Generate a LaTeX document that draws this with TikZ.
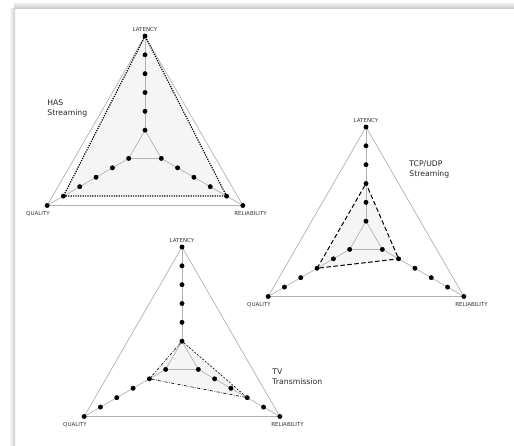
\documentclass[tikz,border=0pt]{standalone}
\usepackage{fontspec}
\setmainfont{DejaVu Sans}
\usepackage{tikz}
\usetikzlibrary{arrows, shapes, calc, backgrounds}

\begin{document}
\begin{tikzpicture}[>=latex, thick, inner sep=0pt, x=1pt, y=1pt,
	punkt/.style={circle, fill, draw=black, line width=0.4pt, minimum size=4.4pt},
	netz/.style={gray!60, line width=0.7pt},
	flaeche/.style={fill=gray!8},
	achse/.style={font=\fontsize{5.5}{6}\selectfont, text=black!80},
	titel/.style={font=\fontsize{7.7}{10}\selectfont, align=left, text=black!85}]
	
	\useasboundingbox (0,0) rectangle (514,-445);
	
	% Schatten
	\shade[top color=white, bottom color=gray!40] (14,-1) rectangle (514,-8);
	\shade[left color=white, right color=gray!40] (9,-8) rectangle (15,-445);
	
	% HAS Streaming
	\begin{scope}[shift={(145,-149)}]
		\node[punkt](h_l1) at (90:18.83) {};
		\node[punkt](h_l2) at (90:37.67) {};
		\node[punkt](h_l3) at (90:56.5) {};
		\node[punkt](h_l4) at (90:75.33) {};
		\node[punkt](h_l5) at (90:94.17) {};
		\node[punkt](h_l6) at (90:113) {};
		\node[punkt](h_q1) at (210:18.83) {};
		\node[punkt](h_q2) at (210:37.67) {};
		\node[punkt](h_q3) at (210:56.5) {};
		\node[punkt](h_q4) at (210:75.33) {};
		\node[punkt](h_q5) at (210:94.17) {};
		\node[punkt](h_q6) at (210:113) {};
		\node[punkt](h_r1) at (330:18.83) {};
		\node[punkt](h_r2) at (330:37.67) {};
		\node[punkt](h_r3) at (330:56.5) {};
		\node[punkt](h_r4) at (330:75.33) {};
		\node[punkt](h_r5) at (330:94.17) {};
		\node[punkt](h_r6) at (330:113) {};
	\end{scope}
	
	% TCP/UDP Streaming
	\begin{scope}[shift={(366,-240)}]
		\node[punkt](t_l1) at (90:18.83) {};
		\node[punkt](t_l2) at (90:37.67) {};
		\node[punkt](t_l3) at (90:56.5) {};
		\node[punkt](t_l4) at (90:75.33) {};
		\node[punkt](t_l5) at (90:94.17) {};
		\node[punkt](t_l6) at (90:113) {};
		\node[punkt](t_q1) at (210:18.83) {};
		\node[punkt](t_q2) at (210:37.67) {};
		\node[punkt](t_q3) at (210:56.5) {};
		\node[punkt](t_q4) at (210:75.33) {};
		\node[punkt](t_q5) at (210:94.17) {};
		\node[punkt](t_q6) at (210:113) {};
		\node[punkt](t_r1) at (330:18.83) {};
		\node[punkt](t_r2) at (330:37.67) {};
		\node[punkt](t_r3) at (330:56.5) {};
		\node[punkt](t_r4) at (330:75.33) {};
		\node[punkt](t_r5) at (330:94.17) {};
		\node[punkt](t_r6) at (330:113) {};
	\end{scope}
	
	% TV Transmission
	\begin{scope}[shift={(182,-360)}]
		\node[punkt](v_l1) at (90:18.83) {};
		\node[punkt](v_l2) at (90:37.67) {};
		\node[punkt](v_l3) at (90:56.5) {};
		\node[punkt](v_l4) at (90:75.33) {};
		\node[punkt](v_l5) at (90:94.17) {};
		\node[punkt](v_l6) at (90:113) {};
		\node[punkt](v_q1) at (210:18.83) {};
		\node[punkt](v_q2) at (210:37.67) {};
		\node[punkt](v_q3) at (210:56.5) {};
		\node[punkt](v_q4) at (210:75.33) {};
		\node[punkt](v_q5) at (210:94.17) {};
		\node[punkt](v_q6) at (210:113) {};
		\node[punkt](v_r1) at (330:18.83) {};
		\node[punkt](v_r2) at (330:37.67) {};
		\node[punkt](v_r3) at (330:56.5) {};
		\node[punkt](v_r4) at (330:75.33) {};
		\node[punkt](v_r5) at (330:94.17) {};
		\node[punkt](v_r6) at (330:113) {};
	\end{scope}
	
	% Achsenbeschriftung
	\node[achse, anchor=base](h_L) at ([yshift=5pt]h_l6.center) {LATENCY};
	\node[achse, anchor=base east](h_Q) at ([xshift=3pt,yshift=-10pt]h_q6.center) {QUALITY};
	\node[achse, anchor=base west](h_R) at ([xshift=-9pt,yshift=-10pt]h_r6.center) {RELIABILITY};
	\node[achse, anchor=base](t_L) at ([yshift=5pt]t_l6.center) {LATENCY};
	\node[achse, anchor=base east](t_Q) at ([xshift=3pt,yshift=-10pt]t_q6.center) {QUALITY};
	\node[achse, anchor=base west](t_R) at ([xshift=-9pt,yshift=-10pt]t_r6.center) {RELIABILITY};
	\node[achse, anchor=base](v_L) at ([yshift=5pt]v_l6.center) {LATENCY};
	\node[achse, anchor=base east](v_Q) at ([xshift=3pt,yshift=-10pt]v_q6.center) {QUALITY};
	\node[achse, anchor=base west](v_R) at ([xshift=-9pt,yshift=-10pt]v_r6.center) {RELIABILITY};
	
	% Titel
	\node[titel, anchor=north west](h_T) at (47,-99) {HAS\\Streaming};
	\node[titel, anchor=north west](t_T) at (409,-160) {TCP/UDP\\Streaming};
	\node[titel, anchor=north west](v_T) at (272,-368) {TV\\Transmission};
	
	\begin{scope}[on background layer]
		% Flaechen
		\fill[flaeche] (h_l6.center) -- (h_q5.center) -- (h_r5.center) -- cycle;
		\fill[flaeche] (t_l3.center) -- (t_q3.center) -- (t_r2.center) -- cycle;
		\fill[flaeche] (v_l1.center) -- (v_q2.center) -- (v_r4.center) -- cycle;
		
		% Netz
		\draw[netz] (h_l6.center) -- (h_q6.center) -- (h_r6.center) -- cycle;
		\draw[netz] (h_l1.center) -- (h_q1.center) -- (h_r1.center) -- cycle;
		\draw[netz] (h_l1) edge (h_l6) (h_q1) edge (h_q6) (h_r1) edge (h_r6);
		\draw[netz] (t_l6.center) -- (t_q6.center) -- (t_r6.center) -- cycle;
		\draw[netz] (t_l1.center) -- (t_q1.center) -- (t_r1.center) -- cycle;
		\draw[netz] (t_l1) edge (t_l6) (t_q1) edge (t_q6) (t_r1) edge (t_r6);
		\draw[netz] (v_l6.center) -- (v_q6.center) -- (v_r6.center) -- cycle;
		\draw[netz] (v_l1.center) -- (v_q1.center) -- (v_r1.center) -- cycle;
		\draw[netz] (v_l1) edge (v_l6) (v_q1) edge (v_q6) (v_r1) edge (v_r6);
		
		% Umrisse
		\draw[line width=1.2pt, dash pattern=on 1.2pt off 1.2pt] (h_l6) -- (h_q5) -- (h_r5) -- (h_l6);
		\draw[line width=1pt, dash pattern=on 4.5pt off 2.5pt] (t_l3) -- (t_q3) -- (t_r2) -- (t_l3);
		\draw[line width=0.6pt, dash pattern=on 3pt off 1.5pt on 0.6pt off 1.5pt] (v_l1) -- (v_q2) -- (v_r4);
		\draw[line width=0.6pt, dash pattern=on 2pt off 1.5pt] (v_l1) -- (v_r4);
	\end{scope}
\end{tikzpicture}
\end{document}
